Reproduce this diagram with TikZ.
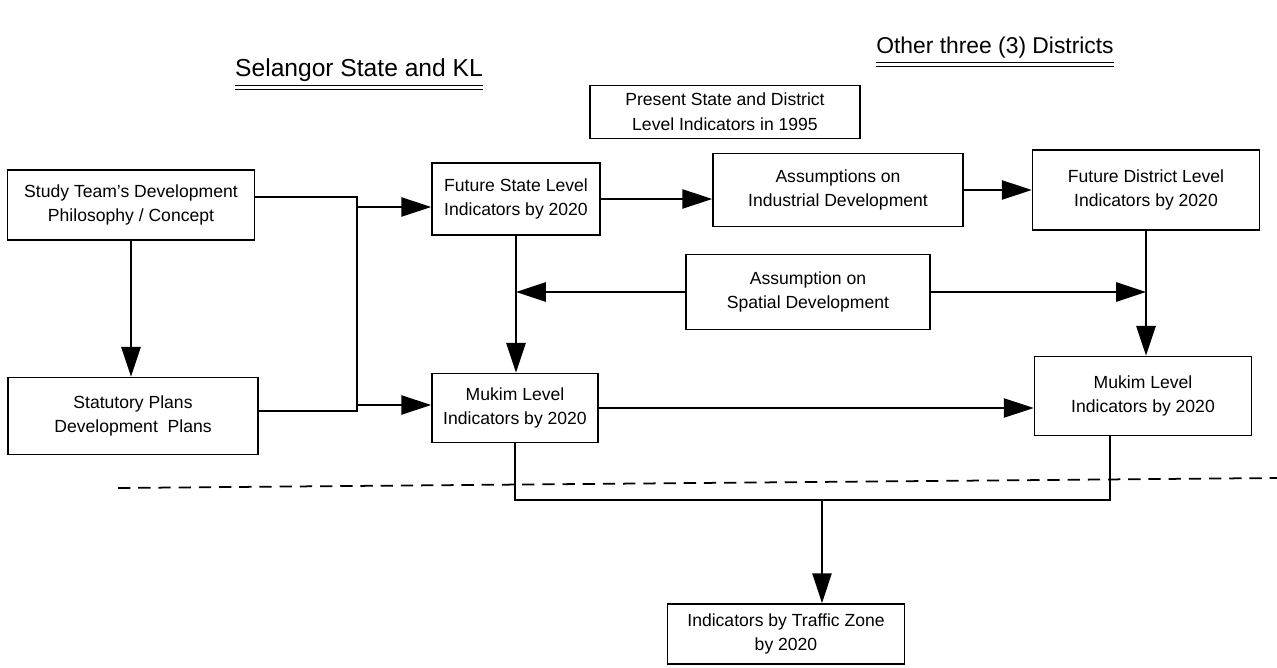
\documentclass[tikz,border=0pt]{standalone}
\usepackage{fontspec}
\setmainfont{Liberation Sans}
\usetikzlibrary{arrows.meta}

\tikzset{
  box/.style={draw, line width=1pt, align=center, inner sep=2pt,
    font=\fontsize{10}{14}\selectfont},
  link/.style={line width=0.9pt},
  arr/.style={link, -{Triangle[length=17pt,width=11pt]}},
  heading/.style={inner sep=0pt},
}

\begin{document}
\begin{tikzpicture}[x=0.02cm,y=-0.02cm]
  \useasboundingbox (0,0) rectangle (1277,668);

  % headings with double underline
  \node[heading, font=\fontsize{14}{16}\selectfont] (selhead) at (359,70) {Selangor State and KL};
  \node[heading, font=\fontsize{13}{15}\selectfont] (disthead) at (995,48) {Other three (3) Districts};
  \foreach \h in {selhead, disthead} {
    \draw[line width=0.8pt] ([yshift=-2pt]\h.south west) -- ([yshift=-2pt]\h.south east);
    \draw[line width=0.8pt] ([yshift=-4.4pt]\h.south west) -- ([yshift=-4.4pt]\h.south east);
  }

  % boxes
  \node[box, minimum width=5.4cm, minimum height=1.06cm] (present) at (725,112) {Present State and District\\Level Indicators in 1995};
  \node[box, minimum width=4.94cm, minimum height=1.4cm] (study) at (131,205) {Study Team's Development\\Philosophy / Concept};
  \node[box, minimum width=3.36cm, minimum height=1.44cm] (fstate) at (516,199) {Future State Level\\Indicators by 2020};
  \node[box, minimum width=5cm, minimum height=1.46cm] (indus) at (838,190) {Assumptions on\\Industrial Development};
  \node[box, minimum width=4.54cm, minimum height=1.6cm] (fdist) at (1146,190) {Future District Level\\Indicators by 2020};
  \node[box, minimum width=4.88cm, minimum height=1.5cm] (spatial) at (808,292) {Assumption on\\Spatial Development};
  \node[box, minimum width=5cm, minimum height=1.54cm] (statut) at (133,416) {Statutory Plans\\Development~ Plans};
  \node[box, minimum width=3.32cm, minimum height=1.38cm] (mukimL) at (515,408) {Mukim Level\\Indicators by 2020};
  \node[box, minimum width=4.34cm, minimum height=1.58cm] (mukimR) at (1143,396) {Mukim Level\\Indicators by 2020};
  \node[box, minimum width=4.74cm, minimum height=1.2cm] (traffic) at (786,634) {Indicators by Traffic Zone\\by 2020};

  % left feed into state and mukim levels
  \coordinate (ja) at (357,197);
  \coordinate (jb) at (357,411);
  \coordinate (jc) at (357,207);
  \coordinate (jd) at (357,405);
  \draw[link] (study.east |- ja) -- (ja) -- (jb) -- (statut.east |- jb);
  \draw[arr] (jc) -- (jc -| fstate.west);
  \draw[arr] (jd) -- (jd -| mukimL.west);
  \draw[arr, line width=1.3pt] (study.south) -- (study.south |- statut.north);

  % top row
  \draw[arr] (fstate.east) -- (fstate.east -| indus.west);
  \draw[arr] (indus.east) -- (indus.east -| fdist.west);
  \draw[arr, line width=1.3pt] (fstate.south) -- (fstate.south |- mukimL.north);
  \draw[arr, line width=1.3pt] (fdist.south) -- (fdist.south |- mukimR.north);
  \draw[arr] (spatial.west) -- (spatial.west -| fstate.south);
  \draw[arr] (spatial.east) -- (spatial.east -| fdist.south);
  \draw[arr] (mukimL.east) -- (mukimL.east -| mukimR.west);

  % divider
  \coordinate (dashL) at (118,488);
  \coordinate (dashR) at (1277,478);
  \draw[line width=1pt, dash pattern=on 7pt off 4.5pt] (dashL) -- (dashR);

  % merge to traffic zones
  \coordinate (mr) at (1110,500);
  \coordinate (mjoin) at (822,500);
  \draw[link] (mukimL.south) |- (mr) -- (mr |- mukimR.south);
  \draw[arr] (mjoin) -- (mjoin |- traffic.north);
\end{tikzpicture}
\end{document}
